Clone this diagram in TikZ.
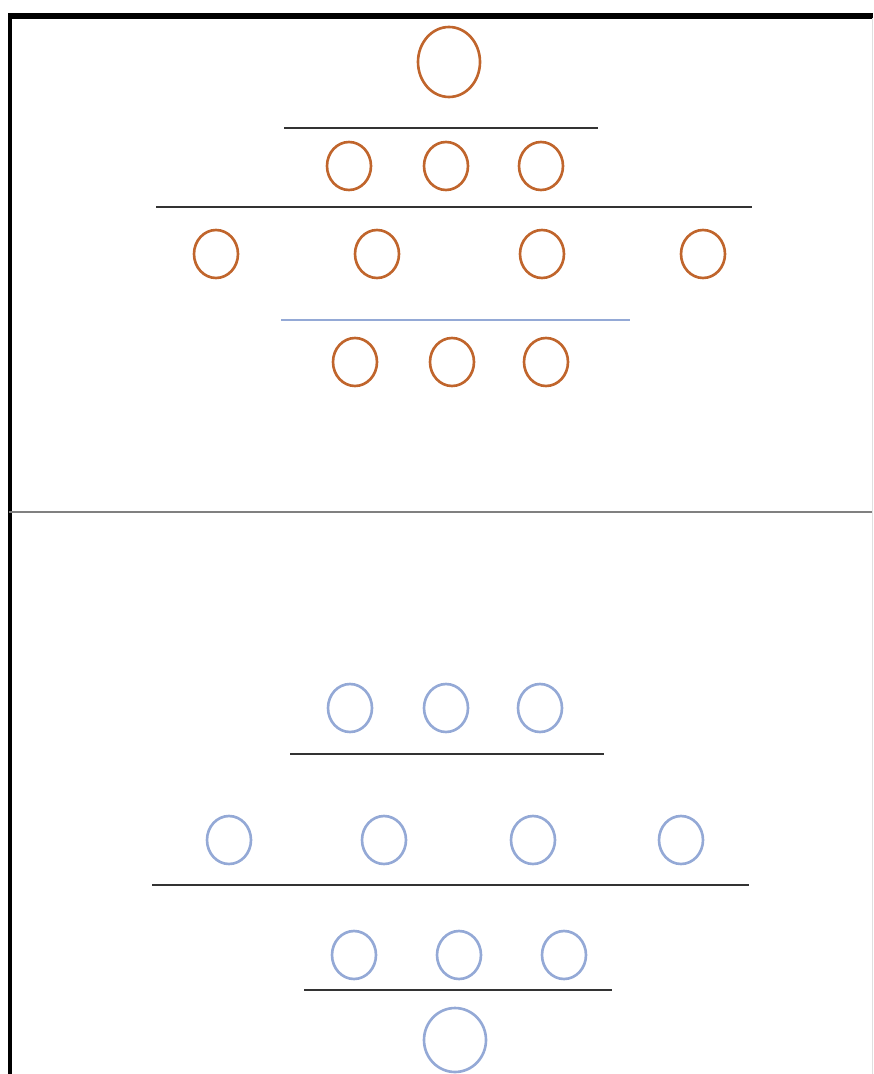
\documentclass[tikz,border=0pt]{standalone}
\usepackage{xcolor}
\usetikzlibrary{shapes.geometric}
\definecolor{ballorange}{HTML}{C0652C}
\definecolor{ballblue}{HTML}{94A9D6}
\definecolor{linegray}{HTML}{333333}

\begin{document}
\begin{tikzpicture}[
  x=0.02cm, y=-0.02cm,
  ball/.style={ellipse, draw=#1, line width=1.5pt, inner sep=0pt, minimum width=0.88cm, minimum height=0.96cm},
  bigball/.style={ball=#1, minimum width=1.24cm, minimum height=1.4cm},
  bar/.style={draw=linegray, line width=0.8pt}
]
  \useasboundingbox (0,0) rectangle (873,1074);
  % frame
  \draw[line width=3.4pt] (8,16) -- (873,16);
  \draw[line width=2.3pt] (10,14) -- (10,1074);
  \draw[draw=gray, line width=1.2pt] (9,512) -- (873,512);
  \draw[draw=gray!25, line width=0.5pt] (872,18) -- (872,1074);

  % upper half
  \node[bigball=ballorange] (t0) at (449,62) {};
  \draw[bar] (284,128) -- (598,128);
  \node[ball=ballorange] (t1) at (349,166) {};
  \node[ball=ballorange] (t2) at (446,166) {};
  \node[ball=ballorange] (t3) at (541,166) {};
  \draw[bar] (156,207) -- (752,207);
  \node[ball=ballorange] (t4) at (216,254) {};
  \node[ball=ballorange] (t5) at (377,254) {};
  \node[ball=ballorange] (t6) at (542,254) {};
  \node[ball=ballorange] (t7) at (703,254) {};
  \draw[bar, draw=ballblue] (281,320) -- (630,320);
  \node[ball=ballorange] (t8) at (355,362) {};
  \node[ball=ballorange] (t9) at (452,362) {};
  \node[ball=ballorange] (t10) at (546,362) {};

  % lower half
  \node[ball=ballblue] (b1) at (350,708) {};
  \node[ball=ballblue] (b2) at (446,708) {};
  \node[ball=ballblue] (b3) at (540,708) {};
  \draw[bar] (290,754) -- (604,754);
  \node[ball=ballblue] (b4) at (229,840) {};
  \node[ball=ballblue] (b5) at (384,840) {};
  \node[ball=ballblue] (b6) at (533,840) {};
  \node[ball=ballblue] (b7) at (681,840) {};
  \draw[bar] (152,885) -- (749,885);
  \node[ball=ballblue] (b8) at (354,955) {};
  \node[ball=ballblue] (b9) at (459,955) {};
  \node[ball=ballblue] (b10) at (564,955) {};
  \draw[bar] (304,990) -- (612,990);
  \node[bigball=ballblue, minimum height=1.28cm] (b0) at (455,1040) {};
\end{tikzpicture}
\end{document}
